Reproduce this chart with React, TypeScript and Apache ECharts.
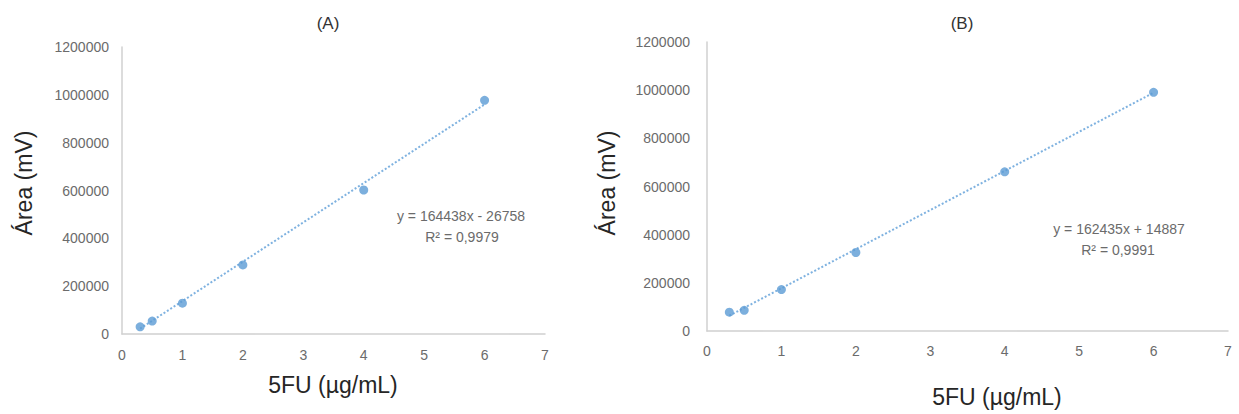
import React, { useEffect, useRef } from "react";
import * as echarts from "echarts";

const concentrations = [0.3, 0.5, 1, 2, 4, 6];
const areaA = [30000, 54000, 129000, 289000, 602000, 977000];
const areaB = [78000, 86000, 172000, 326000, 661000, 991000];
const slopeA = 164438;
const interceptA = -26758;
const slopeB = 162435;
const interceptB = 14887;
const r2A = "0,9979";
const r2B = "0,9991";
const titles = ["(A)", "(B)"];
const xTitle = "5FU (µg/mL)";
const yTitle = "Área (mV)";

const FONT = "Liberation Sans, Arial, sans-serif";
const BLUE = "#5B9BD5";

function trend(slope: number, intercept: number) {
  const x0 = concentrations[0];
  const x1 = concentrations[concentrations.length - 1];
  return [
    [x0, slope * x0 + intercept],
    [x1, slope * x1 + intercept],
  ];
}

function eqText(slope: number, intercept: number) {
  const sign = intercept < 0 ? "-" : "+";
  return `y = ${slope}x ${sign} ${Math.abs(intercept)}`;
}

export default function App() {
  const ref = useRef<HTMLDivElement>(null);
  useEffect(() => {
    if (!ref.current) return;
    const chart = echarts.init(ref.current, null, { renderer: "svg" });
    const axisLine = { show: true, lineStyle: { color: "#d0d0d0", width: 1.5 } };
    const plain = (v: number) => String(v);
    const xAxisBase = (gridIndex: number, margin: number) => ({
      type: "value",
      gridIndex,
      min: 0,
      max: 7,
      interval: 1,
      axisLine,
      axisTick: { show: false },
      splitLine: { show: false },
      axisLabel: { color: "#6b6b6b", fontSize: 14, fontFamily: FONT, margin, formatter: plain },
    });
    const yAxisBase = (gridIndex: number, margin: number) => ({
      type: "value",
      gridIndex,
      min: 0,
      max: 1200000,
      interval: 200000,
      axisLine,
      axisTick: { show: false },
      splitLine: { show: false },
      axisLabel: { color: "#6b6b6b", fontSize: 14, fontFamily: FONT, margin, formatter: plain },
    });
    const textEl = (x: number, y: number, text: string, size: number, color: string, rotation = 0) => ({
      type: "text",
      x,
      y,
      rotation,
      style: {
        text,
        fill: color,
        font: `${size}px ${FONT}`,
        align: "center",
        verticalAlign: "middle",
      },
    });
    chart.setOption({
      animation: false,
      backgroundColor: "#ffffff",
      grid: [
        { left: 122, top: 47, width: 423, height: 287 },
        { left: 707, top: 42, width: 521, height: 289 },
      ],
      xAxis: [xAxisBase(0, 14), xAxisBase(1, 13)],
      yAxis: [yAxisBase(0, 13), yAxisBase(1, 17)],
      series: [
        {
          type: "line",
          xAxisIndex: 0,
          yAxisIndex: 0,
          data: trend(slopeA, interceptA),
          showSymbol: false,
          lineStyle: { color: "#7fb2e0", width: 2, type: [2, 2] },
          z: 1,
        },
        {
          type: "scatter",
          xAxisIndex: 0,
          yAxisIndex: 0,
          data: concentrations.map((c, i) => [c, areaA[i]]),
          symbolSize: 9,
          itemStyle: { color: BLUE },
          z: 2,
        },
        {
          type: "line",
          xAxisIndex: 1,
          yAxisIndex: 1,
          data: trend(slopeB, interceptB),
          showSymbol: false,
          lineStyle: { color: "#7fb2e0", width: 2, type: [2, 2] },
          z: 1,
        },
        {
          type: "scatter",
          xAxisIndex: 1,
          yAxisIndex: 1,
          data: concentrations.map((c, i) => [c, areaB[i]]),
          symbolSize: 9,
          itemStyle: { color: BLUE },
          z: 2,
        },
      ],
      graphic: [
        textEl(328, 23, titles[0], 17, "#333333"),
        textEl(962, 23, titles[1], 17, "#333333"),
        textEl(333, 385, xTitle, 23, "#262626"),
        textEl(997, 397, xTitle, 23, "#262626"),
        textEl(24, 183, yTitle, 23, "#262626", Math.PI / 2),
        textEl(607, 183, yTitle, 23, "#262626", Math.PI / 2),
        textEl(461, 216, eqText(slopeA, interceptA), 14, "#6b6b6b"),
        textEl(462, 237, `R² = ${r2A}`, 14, "#6b6b6b"),
        textEl(1119, 229, eqText(slopeB, interceptB), 14, "#6b6b6b"),
        textEl(1118, 250, `R² = ${r2B}`, 14, "#6b6b6b"),
      ],
    });
    return () => chart.dispose();
  }, []);
  return (
    <div
      ref={ref}
      style={{ position: "absolute", left: 0, top: 0, width: 1239, height: 414 }}
    />
  );
}
